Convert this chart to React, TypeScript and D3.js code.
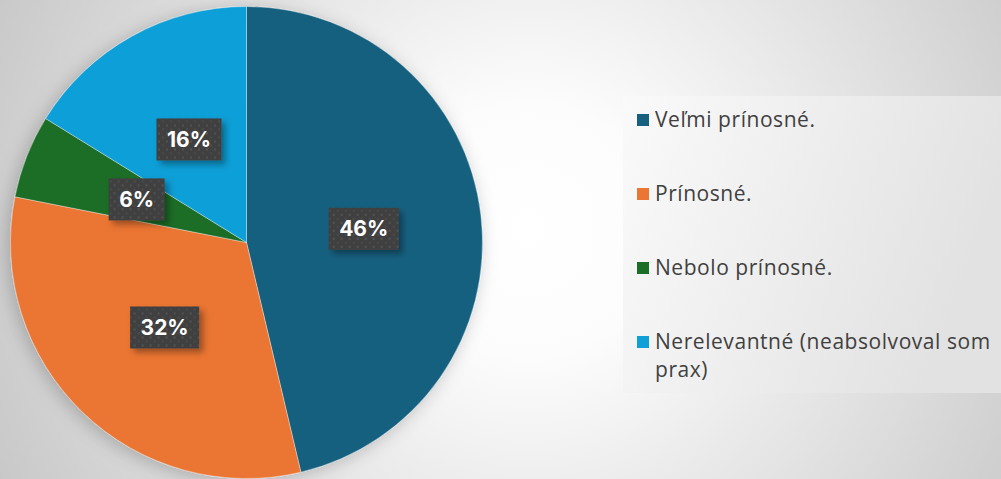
import React from "react";
import * as d3 from "d3";

// data
const categories = ["Veľmi prínosné.", "Prínosné.", "Nebolo prínosné.", "Nerelevantné (neabsolvoval som prax)"];
const shares = [46.3, 31.8, 5.7, 16.2];
const colors = ["#17607f", "#eb7533", "#1c6d27", "#119fd7"];

const W = 1001;
const H = 479;

const App = () => {
  const ref = React.useRef<SVGSVGElement>(null);

  React.useEffect(() => {
    const svg = d3.select(ref.current);
    svg.selectAll("*").remove();

    const defs = svg.append("defs");

    // page background
    const bg = defs.append("radialGradient")
      .attr("id", "bg")
      .attr("gradientUnits", "userSpaceOnUse")
      .attr("cx", 530).attr("cy", 230).attr("r", 640);
    bg.append("stop").attr("offset", 0).attr("stop-color", "#ffffff");
    bg.append("stop").attr("offset", 0.2).attr("stop-color", "#fcfcfc");
    bg.append("stop").attr("offset", 1).attr("stop-color", "#c2c2c2");

    const lg = defs.append("linearGradient").attr("id", "legendBg")
      .attr("x1", 0).attr("y1", 0).attr("x2", 1).attr("y2", 0.3);
    lg.append("stop").attr("offset", 0).attr("stop-color", "#fafafa");
    lg.append("stop").attr("offset", 1).attr("stop-color", "#e2e2e2");

    const pieShadow = defs.append("filter").attr("id", "pieShadow")
      .attr("x", "-20%").attr("y", "-20%").attr("width", "140%").attr("height", "140%");
    pieShadow.append("feDropShadow")
      .attr("dx", -3).attr("dy", 3).attr("stdDeviation", 9)
      .attr("flood-color", "#000").attr("flood-opacity", 0.22);

    const boxShadow = defs.append("filter").attr("id", "boxShadow")
      .attr("x", "-30%").attr("y", "-30%").attr("width", "170%").attr("height", "180%");
    boxShadow.append("feDropShadow")
      .attr("dx", 4).attr("dy", 4).attr("stdDeviation", 3)
      .attr("flood-color", "#000").attr("flood-opacity", 0.35);

    const dots = defs.append("pattern").attr("id", "dots")
      .attr("patternUnits", "userSpaceOnUse")
      .attr("width", 8).attr("height", 8);
    dots.append("rect").attr("width", 8).attr("height", 8).attr("fill", "#404040");
    dots.append("circle").attr("cx", 2).attr("cy", 2).attr("r", 1).attr("fill", "#595959");
    dots.append("circle").attr("cx", 6).attr("cy", 6).attr("r", 1).attr("fill", "#4e4e4e");

    svg.append("rect").attr("width", W).attr("height", H).attr("fill", "url(#bg)");

    // pie
    const cx = 246.5, cy = 242.5, r = 236;
    const pie = d3.pie<number>().sort(null).value(d => d);
    const arcs = pie(shares);
    const arc = d3.arc<d3.PieArcDatum<number>>().innerRadius(0).outerRadius(r);
    const labelArc = d3.arc<d3.PieArcDatum<number>>().innerRadius(r / 2).outerRadius(r / 2);

    const g = svg.append("g").attr("transform", `translate(${cx},${cy})`);
    g.append("g").attr("filter", "url(#pieShadow)")
      .selectAll("path")
      .data(arcs)
      .join("path")
      .attr("d", arc)
      .attr("fill", (d, i) => colors[i])
      .attr("stroke", "rgba(255,255,255,0.45)")
      .attr("stroke-width", 0.8);

    // data labels
    const total = d3.sum(shares);
    const labels = g.append("g");
    arcs.forEach((d) => {
      const [lx, ly] = labelArc.centroid(d);
      const lab = labels.append("g").attr("transform", `translate(${lx},${ly})`);
      const box = lab.append("rect").attr("fill", "url(#dots)").attr("filter", "url(#boxShadow)");
      const t = lab.append("text")
        .attr("text-anchor", "middle")
        .attr("dy", "0.36em")
        .attr("fill", "#ffffff")
        .style("font-family", "Inter, 'Liberation Sans', sans-serif")
        .style("font-weight", 700)
        .style("font-size", "21px")
        .text(Math.round((d.data / total) * 100) + "%");
      const tw = (t.node() as SVGTextElement).getComputedTextLength();
      const bw = tw + 21, bh = 42;
      box.attr("x", -bw / 2).attr("y", -bh / 2).attr("width", bw).attr("height", bh);
    });

    // legend
    const legend = svg.append("g");
    legend.append("rect")
      .attr("x", 623).attr("y", 96).attr("width", W - 623).attr("height", 297)
      .attr("fill", "url(#legendBg)");
    const rowY = d3.scalePoint<string>().domain(categories).range([120, 342]);
    const tx = 655;
    const maxW = 344;
    categories.forEach((c, i) => {
      const y = rowY(c) as number;
      legend.append("rect")
        .attr("x", 637).attr("y", y - 6).attr("width", 12).attr("height", 12)
        .attr("fill", colors[i]);
      const t = legend.append("text")
        .attr("x", tx).attr("y", y)
        .attr("dy", "0.35em")
        .attr("fill", "#404040")
        .style("font-family", "'Open Sans', 'Noto Sans', sans-serif")
        .style("font-size", "21px")
        .style("letter-spacing", "0.55px");
      // simple word wrap
      const words = c.split(" ");
      let line: string[] = [];
      let tspan = t.append("tspan").attr("x", tx);
      words.forEach(w => {
        line.push(w);
        tspan.text(line.join(" "));
        if ((tspan.node() as SVGTSpanElement).getComputedTextLength() > maxW && line.length > 1) {
          line.pop();
          tspan.text(line.join(" "));
          line = [w];
          tspan = t.append("tspan").attr("x", tx).attr("dy", 28).text(w);
        }
      });
    });
  }, []);

  return (
    <svg ref={ref} width={W} height={H} style={{ position: "absolute", left: 0, top: 0, display: "block" }}></svg>
  );
};

export default App;
